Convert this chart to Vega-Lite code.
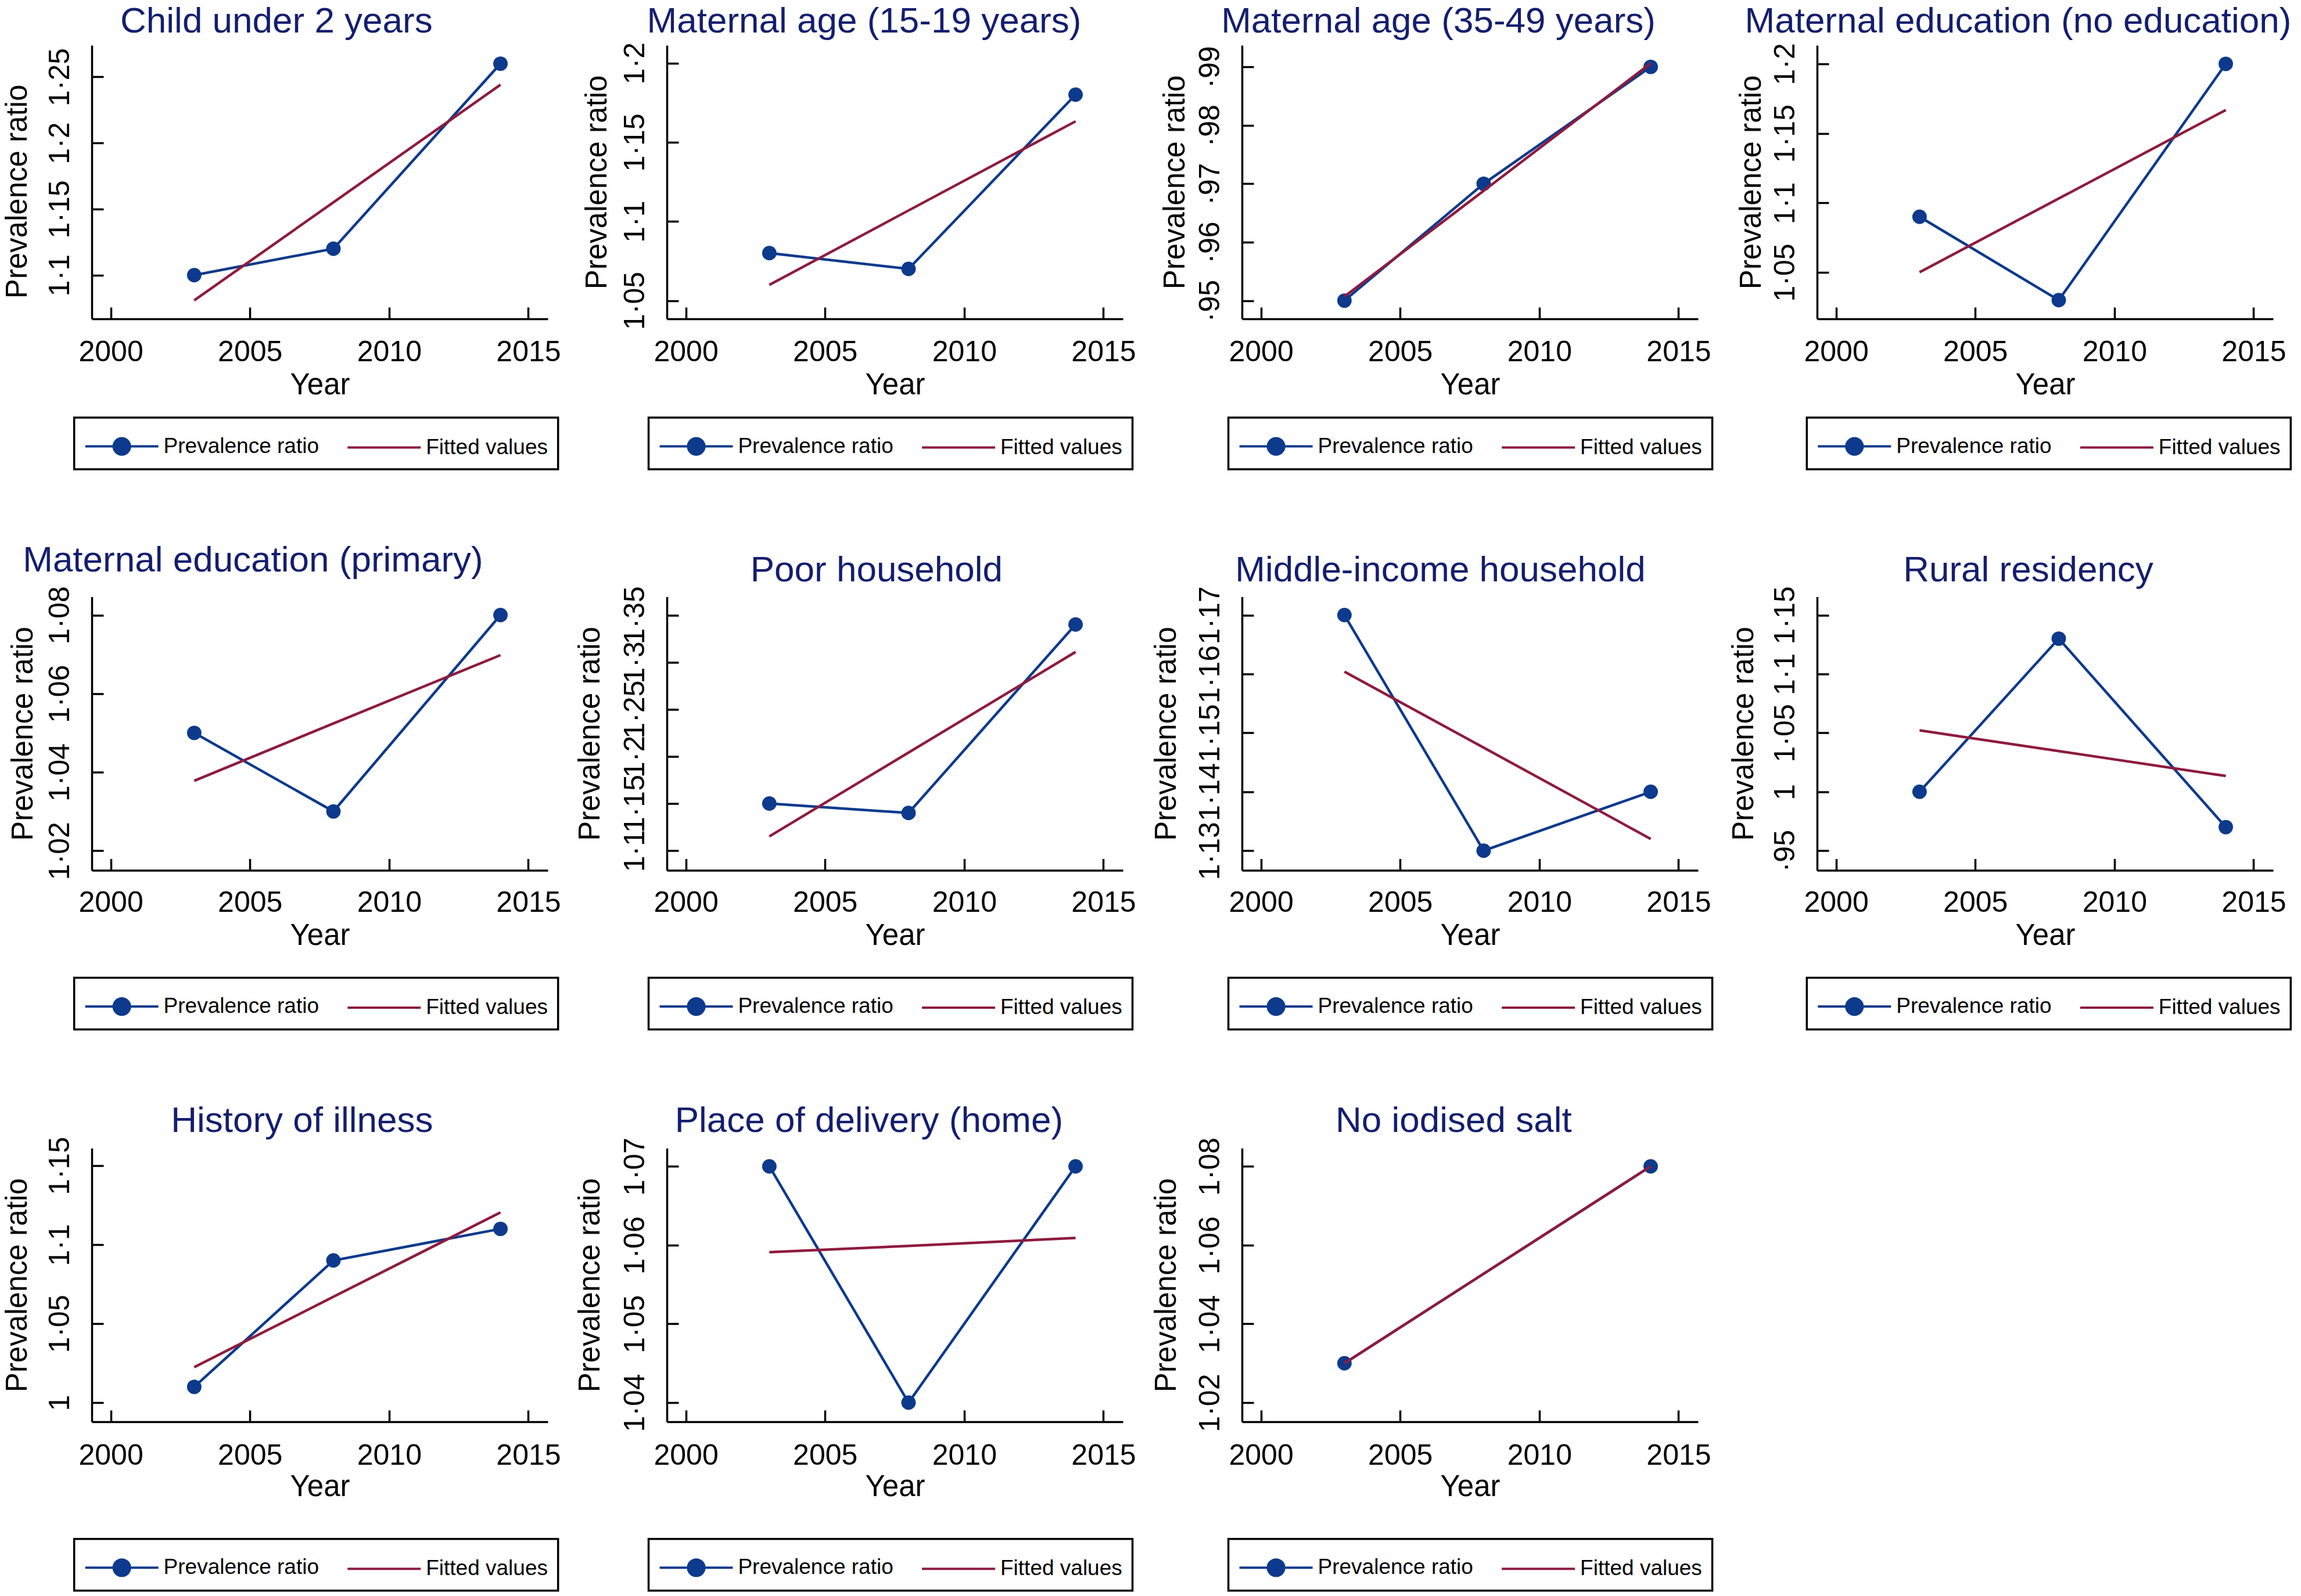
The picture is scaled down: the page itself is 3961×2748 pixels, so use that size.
{
  "$schema": "https://vega.github.io/schema/vega-lite/v6.json",
  "background": "white",
  "padding": {"left": 4, "top": 6, "right": 0, "bottom": 0},
  "data": {"values": [
    {"panel": "Child under 2 years", "year": 2003, "value": 1.10, "series": "Prevalence ratio"},
    {"panel": "Child under 2 years", "year": 2008, "value": 1.12, "series": "Prevalence ratio"},
    {"panel": "Child under 2 years", "year": 2014, "value": 1.26, "series": "Prevalence ratio"},
    {"panel": "Child under 2 years", "year": 2003, "value": 1.0809, "series": "Fitted values"},
    {"panel": "Child under 2 years", "year": 2008, "value": 1.1551, "series": "Fitted values"},
    {"panel": "Child under 2 years", "year": 2014, "value": 1.2441, "series": "Fitted values"},
    {"panel": "Maternal age (15-19 years)", "year": 2003, "value": 1.08, "series": "Prevalence ratio"},
    {"panel": "Maternal age (15-19 years)", "year": 2008, "value": 1.07, "series": "Prevalence ratio"},
    {"panel": "Maternal age (15-19 years)", "year": 2014, "value": 1.18, "series": "Prevalence ratio"},
    {"panel": "Maternal age (15-19 years)", "year": 2003, "value": 1.0599, "series": "Fitted values"},
    {"panel": "Maternal age (15-19 years)", "year": 2008, "value": 1.1069, "series": "Fitted values"},
    {"panel": "Maternal age (15-19 years)", "year": 2014, "value": 1.1632, "series": "Fitted values"},
    {"panel": "Maternal age (35-49 years)", "year": 2003, "value": 0.95, "series": "Prevalence ratio"},
    {"panel": "Maternal age (35-49 years)", "year": 2008, "value": 0.97, "series": "Prevalence ratio"},
    {"panel": "Maternal age (35-49 years)", "year": 2014, "value": 0.99, "series": "Prevalence ratio"},
    {"panel": "Maternal age (35-49 years)", "year": 2003, "value": 0.9507, "series": "Fitted values"},
    {"panel": "Maternal age (35-49 years)", "year": 2008, "value": 0.9688, "series": "Fitted values"},
    {"panel": "Maternal age (35-49 years)", "year": 2014, "value": 0.9906, "series": "Fitted values"},
    {"panel": "Maternal education (no education)", "year": 2003, "value": 1.09, "series": "Prevalence ratio"},
    {"panel": "Maternal education (no education)", "year": 2008, "value": 1.03, "series": "Prevalence ratio"},
    {"panel": "Maternal education (no education)", "year": 2014, "value": 1.20, "series": "Prevalence ratio"},
    {"panel": "Maternal education (no education)", "year": 2003, "value": 1.0501, "series": "Fitted values"},
    {"panel": "Maternal education (no education)", "year": 2008, "value": 1.1031, "series": "Fitted values"},
    {"panel": "Maternal education (no education)", "year": 2014, "value": 1.1668, "series": "Fitted values"},
    {"panel": "Maternal education (primary)", "year": 2003, "value": 1.05, "series": "Prevalence ratio"},
    {"panel": "Maternal education (primary)", "year": 2008, "value": 1.03, "series": "Prevalence ratio"},
    {"panel": "Maternal education (primary)", "year": 2014, "value": 1.08, "series": "Prevalence ratio"},
    {"panel": "Maternal education (primary)", "year": 2003, "value": 1.0378, "series": "Fitted values"},
    {"panel": "Maternal education (primary)", "year": 2008, "value": 1.0524, "series": "Fitted values"},
    {"panel": "Maternal education (primary)", "year": 2014, "value": 1.0698, "series": "Fitted values"},
    {"panel": "Poor household", "year": 2003, "value": 1.15, "series": "Prevalence ratio"},
    {"panel": "Poor household", "year": 2008, "value": 1.14, "series": "Prevalence ratio"},
    {"panel": "Poor household", "year": 2014, "value": 1.34, "series": "Prevalence ratio"},
    {"panel": "Poor household", "year": 2003, "value": 1.1151, "series": "Fitted values"},
    {"panel": "Poor household", "year": 2008, "value": 1.2041, "series": "Fitted values"},
    {"panel": "Poor household", "year": 2014, "value": 1.3109, "series": "Fitted values"},
    {"panel": "Middle-income household", "year": 2003, "value": 1.17, "series": "Prevalence ratio"},
    {"panel": "Middle-income household", "year": 2008, "value": 1.13, "series": "Prevalence ratio"},
    {"panel": "Middle-income household", "year": 2014, "value": 1.14, "series": "Prevalence ratio"},
    {"panel": "Middle-income household", "year": 2003, "value": 1.1604, "series": "Fitted values"},
    {"panel": "Middle-income household", "year": 2008, "value": 1.1475, "series": "Fitted values"},
    {"panel": "Middle-income household", "year": 2014, "value": 1.1320, "series": "Fitted values"},
    {"panel": "Rural residency", "year": 2003, "value": 1.00, "series": "Prevalence ratio"},
    {"panel": "Rural residency", "year": 2008, "value": 1.13, "series": "Prevalence ratio"},
    {"panel": "Rural residency", "year": 2014, "value": 0.97, "series": "Prevalence ratio"},
    {"panel": "Rural residency", "year": 2003, "value": 1.0521, "series": "Fitted values"},
    {"panel": "Rural residency", "year": 2008, "value": 1.0345, "series": "Fitted values"},
    {"panel": "Rural residency", "year": 2014, "value": 1.0134, "series": "Fitted values"},
    {"panel": "History of illness", "year": 2003, "value": 1.01, "series": "Prevalence ratio"},
    {"panel": "History of illness", "year": 2008, "value": 1.09, "series": "Prevalence ratio"},
    {"panel": "History of illness", "year": 2014, "value": 1.11, "series": "Prevalence ratio"},
    {"panel": "History of illness", "year": 2003, "value": 1.0225, "series": "Fitted values"},
    {"panel": "History of illness", "year": 2008, "value": 1.0670, "series": "Fitted values"},
    {"panel": "History of illness", "year": 2014, "value": 1.1204, "series": "Fitted values"},
    {"panel": "Place of delivery (home)", "year": 2003, "value": 1.07, "series": "Prevalence ratio"},
    {"panel": "Place of delivery (home)", "year": 2008, "value": 1.04, "series": "Prevalence ratio"},
    {"panel": "Place of delivery (home)", "year": 2014, "value": 1.07, "series": "Prevalence ratio"},
    {"panel": "Place of delivery (home)", "year": 2003, "value": 1.0591, "series": "Fitted values"},
    {"panel": "Place of delivery (home)", "year": 2008, "value": 1.0599, "series": "Fitted values"},
    {"panel": "Place of delivery (home)", "year": 2014, "value": 1.0609, "series": "Fitted values"},
    {"panel": "No iodised salt", "year": 2003, "value": 1.03, "series": "Prevalence ratio"},
    {"panel": "No iodised salt", "year": 2014, "value": 1.08, "series": "Prevalence ratio"},
    {"panel": "No iodised salt", "year": 2003, "value": 1.03, "series": "Fitted values"},
    {"panel": "No iodised salt", "year": 2014, "value": 1.08, "series": "Fitted values"}
  ]},
  "columns": 4,
  "spacing": {"row": 478.5, "column": 205},
  "bounds": "flush",
  "resolve": {
    "scale": {"x": "independent", "y": "independent", "color": "independent"},
    "legend": {"color": "independent"}
  },
  "concat": [
    {
      "width": 785, "height": 471,
      "title": {"text": "Child under 2 years", "dx": -74.6, "offset": 8.6},
      "transform": [{"filter": {"field": "panel", "equal": "Child under 2 years"}}],
      "encoding": {
        "x": {"field": "year", "type": "quantitative", "scale": {"domain": [1999.32, 2015.7], "nice": false, "zero": false},
              "axis": {"values": [2000, 2005, 2010, 2015], "format": "d", "title": "Year", "labelPadding": 92, "titleY": 129.6}},
        "y": {"field": "value", "type": "quantitative", "scale": {"domain": [1.0669, 1.2739], "nice": false, "zero": false},
              "axis": {"values": [1.1, 1.15, 1.2, 1.25], "title": "Prevalence ratio", "titleX": -112.4, "titleY": 251.5,
                       "labelExpr": "datum.value < 1 ? '\u00b7' + substring(format(datum.value, '.2f'), 2) : replace(format(datum.value, '.2~f'), '.', '\u00b7')"}},
        "color": {"field": "series", "type": "nominal",
                  "scale": {"domain": ["Prevalence ratio", "Fitted values"], "range": ["#0d3a8c", "#8e1b3f"]},
                  "legend": {"title": null, "legendX": -30.3, "legendY": 641.1,
                             "encode": {"symbols": {"update": {
                               "shape": {"signal": "datum.value === 'Prevalence ratio' ? 'M-2.1,0L2.1,0M-0.47,0A0.47,0.47,0,1,1,0.47,0A0.47,0.47,0,1,1,-0.47,0Z' : 'M-2.1,0L2.1,0'"},
                               "fill": {"signal": "datum.value === 'Prevalence ratio' ? '#0d3a8c' : 'transparent'"},
                               "stroke": {"signal": "datum.value === 'Prevalence ratio' ? '#0d3a8c' : '#8e1b3f'"},
                               "strokeWidth": {"value": 4}, "opacity": {"value": 1}}}}}}
      },
      "layer": [
        {"transform": [{"filter": "datum.series === 'Prevalence ratio'"}], "mark": {"type": "line", "strokeWidth": 4.5}},
        {"transform": [{"filter": "datum.series === 'Prevalence ratio'"}], "mark": {"type": "point", "filled": true, "size": 620, "opacity": 1}},
        {"transform": [{"filter": "datum.series === 'Fitted values'"}], "mark": {"type": "line", "strokeWidth": 4.5}}
      ]
    },
    {
      "width": 785, "height": 471,
      "title": {"text": "Maternal age (15-19 years)", "dx": -53, "offset": 3.1},
      "transform": [{"filter": {"field": "panel", "equal": "Maternal age (15-19 years)"}}],
      "encoding": {
        "x": {"field": "year", "type": "quantitative", "scale": {"domain": [1999.32, 2015.7], "nice": false, "zero": false},
              "axis": {"values": [2000, 2005, 2010, 2015], "format": "d", "title": "Year", "labelPadding": 92, "titleY": 129.6}},
        "y": {"field": "value", "type": "quantitative", "scale": {"domain": [1.03845, 1.2112], "nice": false, "zero": false},
              "axis": {"values": [1.05, 1.1, 1.15, 1.2], "title": "Prevalence ratio", "titleX": -104.1,
                       "labelExpr": "datum.value < 1 ? '\u00b7' + substring(format(datum.value, '.2f'), 2) : replace(format(datum.value, '.2~f'), '.', '\u00b7')"}},
        "color": {"field": "series", "type": "nominal",
                  "scale": {"domain": ["Prevalence ratio", "Fitted values"], "range": ["#0d3a8c", "#8e1b3f"]},
                  "legend": {"title": null, "legendX": -31.5, "legendY": 641.1,
                             "encode": {"symbols": {"update": {
                               "shape": {"signal": "datum.value === 'Prevalence ratio' ? 'M-2.1,0L2.1,0M-0.47,0A0.47,0.47,0,1,1,0.47,0A0.47,0.47,0,1,1,-0.47,0Z' : 'M-2.1,0L2.1,0'"},
                               "fill": {"signal": "datum.value === 'Prevalence ratio' ? '#0d3a8c' : 'transparent'"},
                               "stroke": {"signal": "datum.value === 'Prevalence ratio' ? '#0d3a8c' : '#8e1b3f'"},
                               "strokeWidth": {"value": 4}, "opacity": {"value": 1}}}}}}
      },
      "layer": [
        {"transform": [{"filter": "datum.series === 'Prevalence ratio'"}], "mark": {"type": "line", "strokeWidth": 4.5}},
        {"transform": [{"filter": "datum.series === 'Prevalence ratio'"}], "mark": {"type": "point", "filled": true, "size": 620, "opacity": 1}},
        {"transform": [{"filter": "datum.series === 'Fitted values'"}], "mark": {"type": "line", "strokeWidth": 4.5}}
      ]
    },
    {
      "width": 785, "height": 471,
      "title": {"text": "Maternal age (35-49 years)", "dx": -54.4, "offset": 8.6},
      "transform": [{"filter": {"field": "panel", "equal": "Maternal age (35-49 years)"}}],
      "encoding": {
        "x": {"field": "year", "type": "quantitative", "scale": {"domain": [1999.32, 2015.7], "nice": false, "zero": false},
              "axis": {"values": [2000, 2005, 2010, 2015], "format": "d", "title": "Year", "labelPadding": 92, "titleY": 129.6}},
        "y": {"field": "value", "type": "quantitative", "scale": {"domain": [0.94688, 0.99369], "nice": false, "zero": false},
              "axis": {"values": [0.95, 0.96, 0.97, 0.98, 0.99], "title": "Prevalence ratio", "titleX": -99.1,
                       "labelExpr": "datum.value < 1 ? '\u00b7' + substring(format(datum.value, '.2f'), 2) : replace(format(datum.value, '.2~f'), '.', '\u00b7')"}},
        "color": {"field": "series", "type": "nominal",
                  "scale": {"domain": ["Prevalence ratio", "Fitted values"], "range": ["#0d3a8c", "#8e1b3f"]},
                  "legend": {"title": null, "legendX": -23.4, "legendY": 641.1,
                             "encode": {"symbols": {"update": {
                               "shape": {"signal": "datum.value === 'Prevalence ratio' ? 'M-2.1,0L2.1,0M-0.47,0A0.47,0.47,0,1,1,0.47,0A0.47,0.47,0,1,1,-0.47,0Z' : 'M-2.1,0L2.1,0'"},
                               "fill": {"signal": "datum.value === 'Prevalence ratio' ? '#0d3a8c' : 'transparent'"},
                               "stroke": {"signal": "datum.value === 'Prevalence ratio' ? '#0d3a8c' : '#8e1b3f'"},
                               "strokeWidth": {"value": 4}, "opacity": {"value": 1}}}}}}
      },
      "layer": [
        {"transform": [{"filter": "datum.series === 'Prevalence ratio'"}], "mark": {"type": "line", "strokeWidth": 4.5}},
        {"transform": [{"filter": "datum.series === 'Prevalence ratio'"}], "mark": {"type": "point", "filled": true, "size": 620, "opacity": 1}},
        {"transform": [{"filter": "datum.series === 'Fitted values'"}], "mark": {"type": "line", "strokeWidth": 4.5}}
      ]
    },
    {
      "width": 785, "height": 471,
      "title": {"text": "Maternal education (no education)", "dx": -46.5, "offset": 4.5},
      "transform": [{"filter": {"field": "panel", "equal": "Maternal education (no education)"}}],
      "encoding": {
        "x": {"field": "year", "type": "quantitative", "scale": {"domain": [1999.32, 2015.7], "nice": false, "zero": false},
              "axis": {"values": [2000, 2005, 2010, 2015], "format": "d", "title": "Year", "labelPadding": 92, "titleY": 129.6}},
        "y": {"field": "value", "type": "quantitative", "scale": {"domain": [1.01655, 1.21334], "nice": false, "zero": false},
              "axis": {"values": [1.05, 1.1, 1.15, 1.2], "title": "Prevalence ratio", "titleX": -98,
                       "labelExpr": "datum.value < 1 ? '\u00b7' + substring(format(datum.value, '.2f'), 2) : replace(format(datum.value, '.2~f'), '.', '\u00b7')"}},
        "color": {"field": "series", "type": "nominal",
                  "scale": {"domain": ["Prevalence ratio", "Fitted values"], "range": ["#0d3a8c", "#8e1b3f"]},
                  "legend": {"title": null, "legendX": -17.7, "legendY": 641.1,
                             "encode": {"symbols": {"update": {
                               "shape": {"signal": "datum.value === 'Prevalence ratio' ? 'M-2.1,0L2.1,0M-0.47,0A0.47,0.47,0,1,1,0.47,0A0.47,0.47,0,1,1,-0.47,0Z' : 'M-2.1,0L2.1,0'"},
                               "fill": {"signal": "datum.value === 'Prevalence ratio' ? '#0d3a8c' : 'transparent'"},
                               "stroke": {"signal": "datum.value === 'Prevalence ratio' ? '#0d3a8c' : '#8e1b3f'"},
                               "strokeWidth": {"value": 4}, "opacity": {"value": 1}}}}}}
      },
      "layer": [
        {"transform": [{"filter": "datum.series === 'Prevalence ratio'"}], "mark": {"type": "line", "strokeWidth": 4.5}},
        {"transform": [{"filter": "datum.series === 'Prevalence ratio'"}], "mark": {"type": "point", "filled": true, "size": 620, "opacity": 1}},
        {"transform": [{"filter": "datum.series === 'Fitted values'"}], "mark": {"type": "line", "strokeWidth": 4.5}}
      ]
    },
    {
      "width": 785, "height": 471,
      "title": {"text": "Maternal education (primary)", "dx": -115, "offset": 11.5},
      "transform": [{"filter": {"field": "panel", "equal": "Maternal education (primary)"}}],
      "encoding": {
        "x": {"field": "year", "type": "quantitative", "scale": {"domain": [1999.32, 2015.7], "nice": false, "zero": false},
              "axis": {"values": [2000, 2005, 2010, 2015], "format": "d", "title": "Year", "labelPadding": 90.6, "titleY": 128}},
        "y": {"field": "value", "type": "quantitative", "scale": {"domain": [1.015, 1.08466], "nice": false, "zero": false},
              "axis": {"values": [1.02, 1.04, 1.06, 1.08], "title": "Prevalence ratio", "titleX": -102.9,
                       "labelExpr": "datum.value < 1 ? '\u00b7' + substring(format(datum.value, '.2f'), 2) : replace(format(datum.value, '.2~f'), '.', '\u00b7')"}},
        "color": {"field": "series", "type": "nominal",
                  "scale": {"domain": ["Prevalence ratio", "Fitted values"], "range": ["#0d3a8c", "#8e1b3f"]},
                  "legend": {"title": null, "legendX": -30.3, "legendY": 656.1,
                             "encode": {"symbols": {"update": {
                               "shape": {"signal": "datum.value === 'Prevalence ratio' ? 'M-2.1,0L2.1,0M-0.47,0A0.47,0.47,0,1,1,0.47,0A0.47,0.47,0,1,1,-0.47,0Z' : 'M-2.1,0L2.1,0'"},
                               "fill": {"signal": "datum.value === 'Prevalence ratio' ? '#0d3a8c' : 'transparent'"},
                               "stroke": {"signal": "datum.value === 'Prevalence ratio' ? '#0d3a8c' : '#8e1b3f'"},
                               "strokeWidth": {"value": 4}, "opacity": {"value": 1}}}}}}
      },
      "layer": [
        {"transform": [{"filter": "datum.series === 'Prevalence ratio'"}], "mark": {"type": "line", "strokeWidth": 4.5}},
        {"transform": [{"filter": "datum.series === 'Prevalence ratio'"}], "mark": {"type": "point", "filled": true, "size": 620, "opacity": 1}},
        {"transform": [{"filter": "datum.series === 'Fitted values'"}], "mark": {"type": "line", "strokeWidth": 4.5}}
      ]
    },
    {
      "width": 785, "height": 471,
      "title": {"text": "Poor household", "dx": -31.6, "offset": -4.6},
      "transform": [{"filter": {"field": "panel", "equal": "Poor household"}}],
      "encoding": {
        "x": {"field": "year", "type": "quantitative", "scale": {"domain": [1999.32, 2015.7], "nice": false, "zero": false},
              "axis": {"values": [2000, 2005, 2010, 2015], "format": "d", "title": "Year", "labelPadding": 90.6, "titleY": 128}},
        "y": {"field": "value", "type": "quantitative", "scale": {"domain": [1.07917, 1.36942], "nice": false, "zero": false},
              "axis": {"values": [1.1, 1.15, 1.2, 1.25, 1.3, 1.35], "title": "Prevalence ratio", "titleX": -116.8,
                       "labelExpr": "datum.value < 1 ? '\u00b7' + substring(format(datum.value, '.2f'), 2) : replace(format(datum.value, '.2~f'), '.', '\u00b7')"}},
        "color": {"field": "series", "type": "nominal",
                  "scale": {"domain": ["Prevalence ratio", "Fitted values"], "range": ["#0d3a8c", "#8e1b3f"]},
                  "legend": {"title": null, "legendX": -31.5, "legendY": 656.1,
                             "encode": {"symbols": {"update": {
                               "shape": {"signal": "datum.value === 'Prevalence ratio' ? 'M-2.1,0L2.1,0M-0.47,0A0.47,0.47,0,1,1,0.47,0A0.47,0.47,0,1,1,-0.47,0Z' : 'M-2.1,0L2.1,0'"},
                               "fill": {"signal": "datum.value === 'Prevalence ratio' ? '#0d3a8c' : 'transparent'"},
                               "stroke": {"signal": "datum.value === 'Prevalence ratio' ? '#0d3a8c' : '#8e1b3f'"},
                               "strokeWidth": {"value": 4}, "opacity": {"value": 1}}}}}}
      },
      "layer": [
        {"transform": [{"filter": "datum.series === 'Prevalence ratio'"}], "mark": {"type": "line", "strokeWidth": 4.5}},
        {"transform": [{"filter": "datum.series === 'Prevalence ratio'"}], "mark": {"type": "point", "filled": true, "size": 620, "opacity": 1}},
        {"transform": [{"filter": "datum.series === 'Fitted values'"}], "mark": {"type": "line", "strokeWidth": 4.5}}
      ]
    },
    {
      "width": 785, "height": 471,
      "title": {"text": "Middle-income household", "dx": -51, "offset": -4.6},
      "transform": [{"filter": {"field": "panel", "equal": "Middle-income household"}}],
      "encoding": {
        "x": {"field": "year", "type": "quantitative", "scale": {"domain": [1999.32, 2015.7], "nice": false, "zero": false},
              "axis": {"values": [2000, 2005, 2010, 2015], "format": "d", "title": "Year", "labelPadding": 90.6, "titleY": 128}},
        "y": {"field": "value", "type": "quantitative", "scale": {"domain": [1.12667, 1.17311], "nice": false, "zero": false},
              "axis": {"values": [1.13, 1.14, 1.15, 1.16, 1.17], "title": "Prevalence ratio", "titleX": -114.9,
                       "labelExpr": "datum.value < 1 ? '\u00b7' + substring(format(datum.value, '.2f'), 2) : replace(format(datum.value, '.2~f'), '.', '\u00b7')"}},
        "color": {"field": "series", "type": "nominal",
                  "scale": {"domain": ["Prevalence ratio", "Fitted values"], "range": ["#0d3a8c", "#8e1b3f"]},
                  "legend": {"title": null, "legendX": -23.4, "legendY": 656.1,
                             "encode": {"symbols": {"update": {
                               "shape": {"signal": "datum.value === 'Prevalence ratio' ? 'M-2.1,0L2.1,0M-0.47,0A0.47,0.47,0,1,1,0.47,0A0.47,0.47,0,1,1,-0.47,0Z' : 'M-2.1,0L2.1,0'"},
                               "fill": {"signal": "datum.value === 'Prevalence ratio' ? '#0d3a8c' : 'transparent'"},
                               "stroke": {"signal": "datum.value === 'Prevalence ratio' ? '#0d3a8c' : '#8e1b3f'"},
                               "strokeWidth": {"value": 4}, "opacity": {"value": 1}}}}}}
      },
      "layer": [
        {"transform": [{"filter": "datum.series === 'Prevalence ratio'"}], "mark": {"type": "line", "strokeWidth": 4.5}},
        {"transform": [{"filter": "datum.series === 'Prevalence ratio'"}], "mark": {"type": "point", "filled": true, "size": 620, "opacity": 1}},
        {"transform": [{"filter": "datum.series === 'Fitted values'"}], "mark": {"type": "line", "strokeWidth": 4.5}}
      ]
    },
    {
      "width": 785, "height": 471,
      "title": {"text": "Rural residency", "dx": -29, "offset": -4.6},
      "transform": [{"filter": {"field": "panel", "equal": "Rural residency"}}],
      "encoding": {
        "x": {"field": "year", "type": "quantitative", "scale": {"domain": [1999.32, 2015.7], "nice": false, "zero": false},
              "axis": {"values": [2000, 2005, 2010, 2015], "format": "d", "title": "Year", "labelPadding": 90.6, "titleY": 128}},
        "y": {"field": "value", "type": "quantitative", "scale": {"domain": [0.93333, 1.16554], "nice": false, "zero": false},
              "axis": {"values": [0.95, 1, 1.05, 1.1, 1.15], "title": "Prevalence ratio", "titleX": -110.6,
                       "labelExpr": "datum.value < 1 ? '\u00b7' + substring(format(datum.value, '.2f'), 2) : replace(format(datum.value, '.2~f'), '.', '\u00b7')"}},
        "color": {"field": "series", "type": "nominal",
                  "scale": {"domain": ["Prevalence ratio", "Fitted values"], "range": ["#0d3a8c", "#8e1b3f"]},
                  "legend": {"title": null, "legendX": -17.7, "legendY": 656.1,
                             "encode": {"symbols": {"update": {
                               "shape": {"signal": "datum.value === 'Prevalence ratio' ? 'M-2.1,0L2.1,0M-0.47,0A0.47,0.47,0,1,1,0.47,0A0.47,0.47,0,1,1,-0.47,0Z' : 'M-2.1,0L2.1,0'"},
                               "fill": {"signal": "datum.value === 'Prevalence ratio' ? '#0d3a8c' : 'transparent'"},
                               "stroke": {"signal": "datum.value === 'Prevalence ratio' ? '#0d3a8c' : '#8e1b3f'"},
                               "strokeWidth": {"value": 4}, "opacity": {"value": 1}}}}}}
      },
      "layer": [
        {"transform": [{"filter": "datum.series === 'Prevalence ratio'"}], "mark": {"type": "line", "strokeWidth": 4.5}},
        {"transform": [{"filter": "datum.series === 'Prevalence ratio'"}], "mark": {"type": "point", "filled": true, "size": 620, "opacity": 1}},
        {"transform": [{"filter": "datum.series === 'Fitted values'"}], "mark": {"type": "line", "strokeWidth": 4.5}}
      ]
    },
    {
      "width": 785, "height": 471,
      "title": {"text": "History of illness", "dx": -30.7, "offset": -4.6},
      "transform": [{"filter": {"field": "panel", "equal": "History of illness"}}],
      "encoding": {
        "x": {"field": "year", "type": "quantitative", "scale": {"domain": [1999.32, 2015.7], "nice": false, "zero": false},
              "axis": {"values": [2000, 2005, 2010, 2015], "format": "d", "title": "Year", "labelPadding": 93.6, "titleY": 127.4}},
        "y": {"field": "value", "type": "quantitative", "scale": {"domain": [0.9879, 1.16106], "nice": false, "zero": false},
              "axis": {"values": [1, 1.05, 1.1, 1.15], "title": "Prevalence ratio", "titleX": -112.4,
                       "labelExpr": "datum.value < 1 ? '\u00b7' + substring(format(datum.value, '.2f'), 2) : replace(format(datum.value, '.2~f'), '.', '\u00b7')"}},
        "color": {"field": "series", "type": "nominal",
                  "scale": {"domain": ["Prevalence ratio", "Fitted values"], "range": ["#0d3a8c", "#8e1b3f"]},
                  "legend": {"title": null, "legendX": -30.3, "legendY": 672.8,
                             "encode": {"symbols": {"update": {
                               "shape": {"signal": "datum.value === 'Prevalence ratio' ? 'M-2.1,0L2.1,0M-0.47,0A0.47,0.47,0,1,1,0.47,0A0.47,0.47,0,1,1,-0.47,0Z' : 'M-2.1,0L2.1,0'"},
                               "fill": {"signal": "datum.value === 'Prevalence ratio' ? '#0d3a8c' : 'transparent'"},
                               "stroke": {"signal": "datum.value === 'Prevalence ratio' ? '#0d3a8c' : '#8e1b3f'"},
                               "strokeWidth": {"value": 4}, "opacity": {"value": 1}}}}}}
      },
      "layer": [
        {"transform": [{"filter": "datum.series === 'Prevalence ratio'"}], "mark": {"type": "line", "strokeWidth": 4.5}},
        {"transform": [{"filter": "datum.series === 'Prevalence ratio'"}], "mark": {"type": "point", "filled": true, "size": 620, "opacity": 1}},
        {"transform": [{"filter": "datum.series === 'Fitted values'"}], "mark": {"type": "line", "strokeWidth": 4.5}}
      ]
    },
    {
      "width": 785, "height": 471,
      "title": {"text": "Place of delivery (home)", "dx": -44.6, "offset": -3.5},
      "transform": [{"filter": {"field": "panel", "equal": "Place of delivery (home)"}}],
      "encoding": {
        "x": {"field": "year", "type": "quantitative", "scale": {"domain": [1999.32, 2015.7], "nice": false, "zero": false},
              "axis": {"values": [2000, 2005, 2010, 2015], "format": "d", "title": "Year", "labelPadding": 93.6, "titleY": 127.4}},
        "y": {"field": "value", "type": "quantitative", "scale": {"domain": [1.03757, 1.0723], "nice": false, "zero": false},
              "axis": {"values": [1.04, 1.05, 1.06, 1.07], "title": "Prevalence ratio", "titleX": -116.8,
                       "labelExpr": "datum.value < 1 ? '\u00b7' + substring(format(datum.value, '.2f'), 2) : replace(format(datum.value, '.2~f'), '.', '\u00b7')"}},
        "color": {"field": "series", "type": "nominal",
                  "scale": {"domain": ["Prevalence ratio", "Fitted values"], "range": ["#0d3a8c", "#8e1b3f"]},
                  "legend": {"title": null, "legendX": -31.5, "legendY": 672.8,
                             "encode": {"symbols": {"update": {
                               "shape": {"signal": "datum.value === 'Prevalence ratio' ? 'M-2.1,0L2.1,0M-0.47,0A0.47,0.47,0,1,1,0.47,0A0.47,0.47,0,1,1,-0.47,0Z' : 'M-2.1,0L2.1,0'"},
                               "fill": {"signal": "datum.value === 'Prevalence ratio' ? '#0d3a8c' : 'transparent'"},
                               "stroke": {"signal": "datum.value === 'Prevalence ratio' ? '#0d3a8c' : '#8e1b3f'"},
                               "strokeWidth": {"value": 4}, "opacity": {"value": 1}}}}}}
      },
      "layer": [
        {"transform": [{"filter": "datum.series === 'Prevalence ratio'"}], "mark": {"type": "line", "strokeWidth": 4.5}},
        {"transform": [{"filter": "datum.series === 'Prevalence ratio'"}], "mark": {"type": "point", "filled": true, "size": 620, "opacity": 1}},
        {"transform": [{"filter": "datum.series === 'Fitted values'"}], "mark": {"type": "line", "strokeWidth": 4.5}}
      ]
    },
    {
      "width": 785, "height": 471,
      "title": {"text": "No iodised salt", "dx": -28.2, "offset": -3.5},
      "transform": [{"filter": {"field": "panel", "equal": "No iodised salt"}}],
      "encoding": {
        "x": {"field": "year", "type": "quantitative", "scale": {"domain": [1999.32, 2015.7], "nice": false, "zero": false},
              "axis": {"values": [2000, 2005, 2010, 2015], "format": "d", "title": "Year", "labelPadding": 93.6, "titleY": 127.4}},
        "y": {"field": "value", "type": "quantitative", "scale": {"domain": [1.01515, 1.0846], "nice": false, "zero": false},
              "axis": {"values": [1.02, 1.04, 1.06, 1.08], "title": "Prevalence ratio", "titleX": -114.9,
                       "labelExpr": "datum.value < 1 ? '\u00b7' + substring(format(datum.value, '.2f'), 2) : replace(format(datum.value, '.2~f'), '.', '\u00b7')"}},
        "color": {"field": "series", "type": "nominal",
                  "scale": {"domain": ["Prevalence ratio", "Fitted values"], "range": ["#0d3a8c", "#8e1b3f"]},
                  "legend": {"title": null, "legendX": -23.4, "legendY": 672.8,
                             "encode": {"symbols": {"update": {
                               "shape": {"signal": "datum.value === 'Prevalence ratio' ? 'M-2.1,0L2.1,0M-0.47,0A0.47,0.47,0,1,1,0.47,0A0.47,0.47,0,1,1,-0.47,0Z' : 'M-2.1,0L2.1,0'"},
                               "fill": {"signal": "datum.value === 'Prevalence ratio' ? '#0d3a8c' : 'transparent'"},
                               "stroke": {"signal": "datum.value === 'Prevalence ratio' ? '#0d3a8c' : '#8e1b3f'"},
                               "strokeWidth": {"value": 4}, "opacity": {"value": 1}}}}}}
      },
      "layer": [
        {"transform": [{"filter": "datum.series === 'Prevalence ratio'"}], "mark": {"type": "line", "strokeWidth": 4.5}},
        {"transform": [{"filter": "datum.series === 'Prevalence ratio'"}], "mark": {"type": "point", "filled": true, "size": 620, "opacity": 1}},
        {"transform": [{"filter": "datum.series === 'Fitted values'"}], "mark": {"type": "line", "strokeWidth": 4.5}}
      ]
    }
  ],
  "config": {
    "font": "Liberation Sans",
    "view": {"stroke": null},
    "axis": {
      "grid": false,
      "domainColor": "black", "domainWidth": 3.5,
      "tickColor": "black", "tickWidth": 3.5, "tickSize": -20,
      "labelColor": "black", "labelFont": "Liberation Sans", "labelFontSize": 50,
      "labelOverlap": false, "labelFlush": false, "labelLimit": 1000,
      "titleColor": "black", "titleFont": "Liberation Sans", "titleFontSize": 51, "titleFontWeight": "normal",
      "titleLimit": 2000
    },
    "axisX": {"labelBaseline": "alphabetic", "labelAlign": "center", "titleBaseline": "alphabetic"},
    "axisY": {"labelAngle": 270, "labelAlign": "center", "labelBaseline": "alphabetic", "labelPadding": 59.8,
              "titleAngle": 270, "titleAlign": "center", "titleBaseline": "alphabetic"},
    "legend": {
      "orient": "none", "direction": "horizontal",
      "strokeColor": "black", "strokeWidth": 3.5, "padding": 17,
      "symbolSize": 3600, "symbolOffset": 33, "labelOffset": 39.9, "columnPadding": 40.6,
      "labelFont": "Liberation Sans", "labelFontSize": 37, "labelColor": "black", "labelLimit": 1000
    },
    "title": {
      "font": "Liberation Sans", "fontSize": 62, "fontWeight": "normal", "color": "#141e6e",
      "anchor": "middle", "frame": "group", "baseline": "alphabetic"
    }
  }
}
